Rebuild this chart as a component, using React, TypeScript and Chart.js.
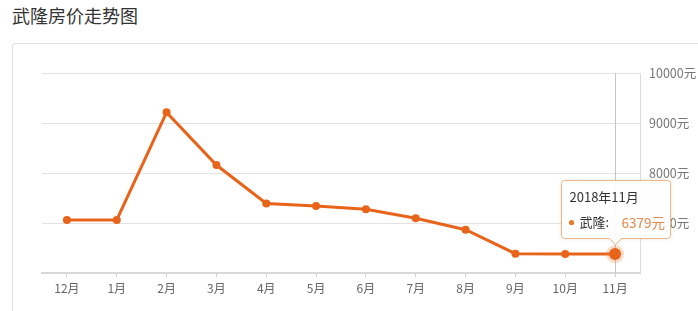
import React, { useEffect, useRef } from 'react';
import { Chart, registerables } from 'chart.js';
Chart.register(...registerables);

const categories = ['12月', '1月', '2月', '3月', '4月', '5月', '6月', '7月', '8月', '9月', '10月', '11月'];
const prices = [7060, 7060, 9213, 8159, 7390, 7338, 7274, 7094, 6866, 6386, 6379, 6379];
const seriesName = '武隆';
const tooltipTitle = '2018年11月';
const chartTitle = '武隆房价走势图';
const yMin = 6000;
const yMax = 10000;
const yStep = 1000;
const unit = '元';
const activeIndex = 11;

const FONT = '"Noto Sans CJK SC", "Noto Sans", sans-serif';
const ORANGE = '#e8641b';

const overlayPlugin = {
  id: 'overlay',
  beforeDatasetsDraw(chart: any) {
    const { ctx, chartArea } = chart;
    const pt = chart.getDatasetMeta(0).data[activeIndex];
    ctx.save();
    ctx.strokeStyle = '#c4c4c4';
    ctx.lineWidth = 1;
    const x = Math.round(pt.x) + 0.5;
    ctx.beginPath();
    ctx.moveTo(x, chartArea.top);
    ctx.lineTo(x, chartArea.bottom);
    ctx.stroke();
    ctx.restore();
  },
  afterDatasetsDraw(chart: any) {
    const { ctx } = chart;
    const pt = chart.getDatasetMeta(0).data[activeIndex];
    ctx.save();
    ctx.fillStyle = 'rgba(240,130,60,0.28)';
    ctx.beginPath();
    ctx.arc(pt.x, pt.y, 9, 0, Math.PI * 2);
    ctx.fill();
    ctx.fillStyle = ORANGE;
    ctx.beginPath();
    ctx.arc(pt.x, pt.y, 6, 0, Math.PI * 2);
    ctx.fill();
    ctx.restore();
  },
  afterDraw(chart: any) {
    const { ctx } = chart;
    const pt = chart.getDatasetMeta(0).data[activeIndex];
    const w = 109;
    const h = 58;
    const left = Math.round(pt.x - 54) + 0.5;
    const bottom = Math.round(pt.y - 16) + 0.5;
    const top = bottom - h;
    const right = left + w;
    const r = 3;
    const cx = Math.round(pt.x) + 0.5;
    const tip = bottom + 6;
    ctx.save();
    ctx.beginPath();
    ctx.moveTo(left + r, top);
    ctx.lineTo(right - r, top);
    ctx.quadraticCurveTo(right, top, right, top + r);
    ctx.lineTo(right, bottom - r);
    ctx.quadraticCurveTo(right, bottom, right - r, bottom);
    ctx.lineTo(cx + 6, bottom);
    ctx.lineTo(cx, tip);
    ctx.lineTo(cx - 6, bottom);
    ctx.lineTo(left + r, bottom);
    ctx.quadraticCurveTo(left, bottom, left, bottom - r);
    ctx.lineTo(left, top + r);
    ctx.quadraticCurveTo(left, top, left + r, top);
    ctx.closePath();
    ctx.shadowColor = 'rgba(0,0,0,0.12)';
    ctx.shadowBlur = 4;
    ctx.fillStyle = 'rgba(255,255,255,0.96)';
    ctx.fill();
    ctx.shadowColor = 'transparent';
    ctx.strokeStyle = '#f0b582';
    ctx.lineWidth = 1;
    ctx.stroke();

    ctx.textBaseline = 'middle';
    ctx.font = `13px ${FONT}`;
    ctx.fillStyle = '#333';
    ctx.textAlign = 'left';
    ctx.fillText(tooltipTitle, left + 8, top + 17);

    const ly = top + 42;
    ctx.fillStyle = '#e97a2c';
    ctx.beginPath();
    ctx.arc(left + 10, ly, 2.6, 0, Math.PI * 2);
    ctx.fill();
    ctx.fillStyle = '#333';
    ctx.fillText(seriesName + ':', left + 18, ly);
    ctx.fillStyle = '#e0894d';
    ctx.font = `13.5px ${FONT}`;
    ctx.fillText(String(prices[activeIndex]) + unit, left + 60, ly);
    ctx.restore();
  },
};

export default function App() {
  const canvasRef = useRef<HTMLCanvasElement | null>(null);

  useEffect(() => {
    const canvas = canvasRef.current;
    if (!canvas) return;
    const chart = new Chart(canvas, {
      type: 'line',
      data: {
        labels: categories,
        datasets: [
          {
            label: seriesName,
            data: prices,
            borderColor: ORANGE,
            backgroundColor: ORANGE,
            borderWidth: 3,
            pointRadius: 4,
            pointBackgroundColor: ORANGE,
            pointBorderWidth: 0,
            tension: 0,
            fill: false,
          },
        ],
      },
      options: {
        responsive: false,
        maintainAspectRatio: false,
        animation: false,
        events: [],
        layout: { padding: { left: 42, top: 73, right: 0, bottom: 0 } },
        plugins: {
          legend: { display: false },
          tooltip: { enabled: false },
          title: { display: false },
        },
        scales: {
          x: {
            offset: true,
            grid: {
              display: true,
              drawOnChartArea: false,
              drawTicks: true,
              tickLength: 4,
              color: '#cfcfcf',
            },
            border: { color: '#d8d8d8', width: 2 },
            ticks: {
              color: '#666',
              font: { size: 12, family: FONT },
              padding: 4,
              maxRotation: 0,
              autoSkip: false,
            },
            afterFit: (s: any) => {
              s.height = 38;
            },
          },
          y: {
            position: 'right',
            min: yMin,
            max: yMax,
            ticks: {
              stepSize: yStep,
              color: '#777',
              font: { size: 12.5, family: FONT },
              padding: 9,
              callback: (v: any) => (Number(v) === yMin ? '' : v + unit),
            },
            grid: { color: '#e2e2e2', drawTicks: false },
            border: { color: '#dcdcdc', width: 1 },
            afterFit: (s: any) => {
              s.width = 58;
            },
          },
        },
      },
      plugins: [overlayPlugin],
    });
    return () => chart.destroy();
  }, []);

  return (
    <div
      style={{
        position: 'absolute',
        left: 0,
        top: 0,
        width: 698,
        height: 311,
        overflow: 'hidden',
        background: '#fff',
      }}
    >
      <div
        style={{
          position: 'absolute',
          left: 12,
          top: 4,
          fontFamily: FONT,
          fontSize: 18,
          color: '#333',
          lineHeight: '22px',
          whiteSpace: 'nowrap',
        }}
      >
        {chartTitle}
      </div>
      <div
        style={{
          position: 'absolute',
          left: 12,
          top: 43,
          width: 720,
          height: 400,
          border: '1px solid #dedede',
          borderRadius: 3,
          boxSizing: 'border-box',
        }}
      />
      <canvas
        ref={canvasRef}
        width={698}
        height={311}
        style={{ position: 'absolute', left: 0, top: 0, width: 698, height: 311 }}
      />
    </div>
  );
}
